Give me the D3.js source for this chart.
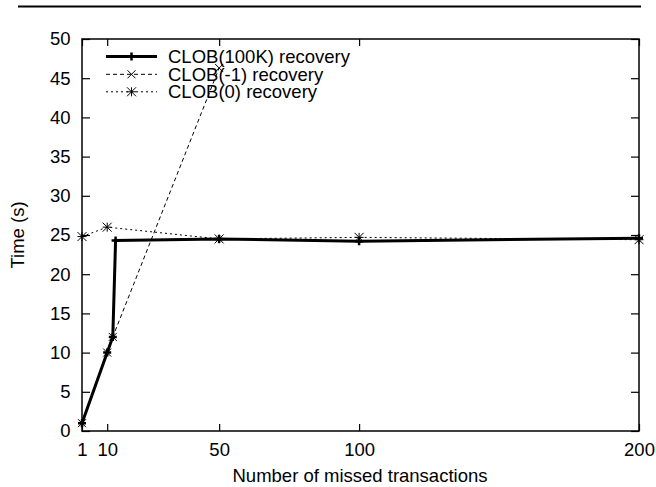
<!DOCTYPE html>
<html><head><meta charset="utf-8">
<script src="https://cdn.jsdelivr.net/npm/d3@7"></script>
<style>body{margin:0;background:#fff}svg{display:block}text{font-family:"Liberation Sans",Arial,sans-serif;fill:#000}</style>
</head><body><svg id="c" width="656" height="487"></svg>
<script>
const xTicks = [1, 10, 50, 100, 200];
const yTicks = [0, 5, 10, 15, 20, 25, 30, 35, 40, 45, 50];
const seriesNames = ["CLOB(100K) recovery", "CLOB(-1) recovery", "CLOB(0) recovery"];
const x100K = [1, 10, 12, 13, 50, 100, 200];
const y100K = [1, 10, 12, 24.3, 24.5, 24.2, 24.6];
const xNeg1 = [1, 10, 12, 50];
const yNeg1 = [1, 10, 12, 46.3];
const xZero = [1, 10, 50, 100, 200];
const yZero = [24.8, 26, 24.5, 24.7, 24.4];

const svg = d3.select("#c");
const L = 82, R = 639, T = 39, B = 431;
const x = d3.scaleLinear().domain([1, 200]).range([L, R]);
const y = d3.scaleLinear().domain([0, 50]).range([B, T]);

// top rule
svg.append("line").attr("x1", 18).attr("x2", 641).attr("y1", 6.5).attr("y2", 6.5)
  .attr("stroke", "#000").attr("stroke-width", 2);

// axes
const fs = 18.5;
const gx = svg.append("g").attr("transform", `translate(0,${B})`)
  .call(d3.axisBottom(x).tickValues(xTicks).tickSize(-7).tickPadding(12).tickFormat(d3.format("d")));
const gxt = svg.append("g").attr("transform", `translate(0,${T})`)
  .call(d3.axisTop(x).tickValues(xTicks).tickSize(-7).tickFormat(""));
const gy = svg.append("g").attr("transform", `translate(${L},0)`)
  .call(d3.axisLeft(y).tickValues(yTicks).tickSize(-8).tickPadding(11.5));
const gyr = svg.append("g").attr("transform", `translate(${R},0)`)
  .call(d3.axisRight(y).tickValues(yTicks).tickSize(-8).tickFormat(""));
[gx, gxt, gy, gyr].forEach(g => {
  g.select(".domain").remove();
  g.selectAll("line").attr("stroke", "#000").attr("stroke-width", 1.2);
  g.selectAll("text").attr("font-size", fs).attr("font-family", '"Liberation Sans",Arial,sans-serif').attr("fill", "#000");
});
svg.append("rect").attr("x", L).attr("y", T).attr("width", R - L).attr("height", B - T)
  .attr("fill", "none").attr("stroke", "#000").attr("stroke-width", 1.5);

svg.append("text").attr("x", 360).attr("y", 482).attr("text-anchor", "middle")
  .attr("font-size", fs).text("Number of missed transactions");
svg.append("text").attr("transform", `translate(24,${(T + B) / 2}) rotate(-90)`)
  .attr("text-anchor", "middle").attr("font-size", fs).text("Time (s)");

function marker(g, type, cx, cy, s) {
  const p = d3.path();
  if (type === "plus" || type === "star") { p.moveTo(cx - s, cy); p.lineTo(cx + s, cy); p.moveTo(cx, cy - s); p.lineTo(cx, cy + s); }
  if (type === "cross" || type === "star") { p.moveTo(cx - s, cy - s); p.lineTo(cx + s, cy + s); p.moveTo(cx - s, cy + s); p.lineTo(cx + s, cy - s); }
  g.append("path").attr("d", p.toString()).attr("stroke", "#000").attr("fill", "none")
    .attr("stroke-width", type === "plus" ? 2.5 : 1);
}

const styles = [
  {w: 3, dash: null, m: "plus", ms: 4},
  {w: 1, dash: "4,3", m: "cross", ms: 4},
  {w: 1, dash: "2,3", m: "star", ms: 4.5}
];

// legend
const ly = [56.5, 74.3, 91.8];
seriesNames.forEach((n, i) => {
  const st = styles[i];
  svg.append("line").attr("x1", 106).attr("x2", 157).attr("y1", ly[i]).attr("y2", ly[i])
    .attr("stroke", "#000").attr("stroke-width", st.w).attr("stroke-dasharray", st.dash);
  marker(svg, st.m, 131.5, ly[i], st.ms);
  svg.append("text").attr("x", 168).attr("y", ly[i] + 6.5).attr("font-size", fs).text(n);
});

const data = [
  x100K.map((v, i) => [v, y100K[i]]),
  xNeg1.map((v, i) => [v, yNeg1[i]]),
  xZero.map((v, i) => [v, yZero[i]])
];
const line = d3.line().x(d => x(d[0])).y(d => y(d[1]));
[2, 1, 0].forEach(i => {
  const st = styles[i];
  svg.append("path").attr("d", line(data[i])).attr("fill", "none").attr("stroke", "#000")
    .attr("stroke-width", st.w).attr("stroke-dasharray", st.dash).attr("stroke-linejoin", "miter");
  data[i].forEach(d => marker(svg, st.m, x(d[0]), y(d[1]), st.ms));
});
</script></body></html>
